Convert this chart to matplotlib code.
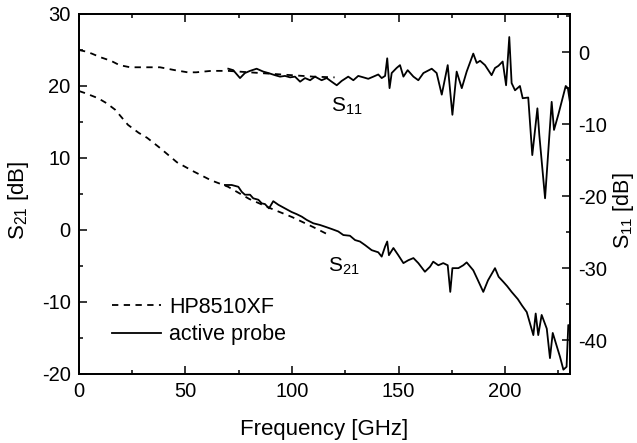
import matplotlib
matplotlib.use("Agg")
import matplotlib.pyplot as plt
from matplotlib.ticker import MultipleLocator

plt.rcParams['font.family'] = ['Liberation Sans', 'DejaVu Sans']
plt.rcParams['mathtext.default'] = 'regular'
plt.rcParams['axes.unicode_minus'] = False

# HP8510XF reference (dashed)
ref_s11_f = [0, 3, 6, 10, 15, 19, 24, 30, 38, 45, 51, 55, 62, 70, 80, 90, 100, 110, 120]
ref_s11 = [0.3, 0.1, -0.2, -0.7, -1.2, -1.8, -2.1, -2.1, -2.1, -2.5, -2.8, -2.8, -2.6,
           -2.6, -2.8, -3.0, -3.2, -3.4, -3.5]
ref_s21_f = [0, 3, 9, 13, 17, 23, 28, 32, 38, 46, 54, 62, 70, 80, 90, 100, 110, 118]
ref_s21 = [19.3, 19.0, 18.3, 17.6, 16.7, 14.6, 13.5, 12.8, 11.4, 9.4, 8.1, 6.9, 6.0,
           4.3, 3.0, 1.8, 0.4, -0.8]

# active probe (solid)
ap_s11_f = [70.1, 72.4, 75.6, 77.9, 80.3, 83.4, 86.5, 88.9, 92, 94.4, 96.7, 99.1, 101.4,
            103.8, 106.1, 108.5, 110.8, 113.9, 116.3, 118.6, 121, 123.3, 126.4, 128.8,
            131.1, 133.5, 135.8, 138.2, 140.5, 142.1, 143.7, 144.7, 145.8, 146.8,
            149.1, 150.7, 152.3, 154.3, 157, 159.3, 161.7, 165.6, 167.9, 170.3, 173.1,
            175.3, 177.3, 179.7, 182, 185.1, 186.7, 188.3, 190.6, 193.7, 195.3, 196.9,
            198.9, 200.5, 202, 203.1, 204.7, 207, 208.3, 210.9, 212.8, 215.2, 216.1,
            218.8, 221.9, 223, 225, 228.5, 229.5, 230.5]
ap_s11 = [-2.3, -2.5, -3.6, -2.9, -2.6, -2.3, -2.7, -2.9, -3.2, -3.4, -3.3, -3.5, -3.4,
          -4.1, -3.6, -3.9, -3.4, -3.9, -3.6, -4.1, -4.6, -4.0, -3.4, -3.9,
          -3.3, -3.5, -3.7, -3.4, -3.1, -3.6, -3.3, -0.85, -5.0, -2.9,
          -2.2, -1.8, -3.4, -2.5, -3.4, -3.9, -2.9, -2.3, -2.9, -5.9, -1.8,
          -8.7, -2.7, -5.0, -2.7, -0.2, -1.5, -1.2, -1.8, -3.2, -2.2, -1.9,
          -1.3, -4.6, 2.1, -4.3, -5.3, -4.7, -6.4, -6.3, -14.3, -7.8, -11.5,
          -20.3, -6.9, -10.8, -8.7, -4.7, -5.0, -7.0]
ap_s21_f = [68.5, 71.7, 74.8, 76.4, 77.9, 80.3, 81.8, 84.2, 85.8, 87.3, 89.2, 91.2, 93.6,
            96.7, 99.8, 102.2, 104.6, 106.9, 110, 113.1, 115.5, 118.6, 121.7, 124.1,
            127.2, 129.6, 131.9, 134.3, 137.4, 140.5, 142.1, 143.7, 144.7, 145.5,
            147.6, 149.9, 152.3, 154.6, 157, 159.3, 162.4, 164.8, 166.3, 168.7, 171,
            173.1, 174.3, 175.3, 178.1, 180.4, 182, 185.1, 187, 189.8, 192, 195.3,
            197, 199.2, 201, 203.1, 206, 208, 210.2, 213.3, 214.4, 215.6, 217.2,
            219.6, 221.1, 222.4, 225.8, 227.4, 228.9, 229.7, 230.5]
ap_s21 = [6.25, 6.25, 6.0, 5.3, 4.9, 4.9, 4.4, 4.2, 3.7, 3.6, 3.0, 4.0, 3.5,
          3.0, 2.5, 2.2, 1.85, 1.4, 0.93, 0.7, 0.46, 0.14, -0.2, -0.7,
          -0.8, -1.4, -1.6, -2.1, -2.8, -3.1, -3.7, -2.3, -1.6, -3.5,
          -2.5, -3.5, -4.6, -4.2, -3.9, -4.6, -5.8, -5.1, -4.4, -4.9, -4.6,
          -4.9, -8.6, -5.3, -5.3, -4.9, -4.5, -5.6, -6.8, -8.6, -7.0, -5.3,
          -6.5, -7.2, -7.8, -8.6, -9.6, -10.5, -11.4, -14.6, -11.6, -14.6, -11.8,
          -13.7, -17.8, -14.3, -17.6, -19.4, -19.0, -13.2, -13.5]

fig = plt.figure(figsize=(6.37, 4.43), dpi=100)
ax = fig.add_axes([0.124, 0.1558, 0.7708, 0.8126])
ax2 = ax.twinx()

lw = 1.3
ax.plot(ref_s21_f, ref_s21, color='black', lw=lw, dashes=(3.5, 3), label='HP8510XF')
ax.plot(ap_s21_f, ap_s21, color='black', lw=lw, label='active probe')
ax2.plot(ref_s11_f, ref_s11, color='black', lw=lw, dashes=(3.5, 3))
ax2.plot(ap_s11_f, ap_s11, color='black', lw=lw)

ax.set_xlim(0, 230.5)
ax.set_ylim(-20, 30)
ax2.set_ylim(-44.7, 5.3)

ax.xaxis.set_major_locator(MultipleLocator(50))
ax.xaxis.set_minor_locator(MultipleLocator(25))
ax.yaxis.set_major_locator(MultipleLocator(10))
ax.yaxis.set_minor_locator(MultipleLocator(5))
ax2.yaxis.set_major_locator(MultipleLocator(10))
ax2.yaxis.set_minor_locator(MultipleLocator(5))

for a in (ax, ax2):
    a.tick_params(which='both', direction='in', labelsize=14.5, width=1.1)
    a.tick_params(which='major', length=6, pad=6)
    a.tick_params(which='minor', length=3)
    for s in a.spines.values():
        s.set_linewidth(1.3)
ax.tick_params(which='both', top=True, right=False)

ax.set_xlabel('Frequency [GHz]', fontsize=16)
ax.set_ylabel('S$_{21}$ [dB]', fontsize=16)
ax2.set_ylabel('S$_{11}$ [dB]', fontsize=15.5)
ax.xaxis.set_label_coords(0.5, -0.125)
ax.yaxis.set_label_coords(-0.098, 0.483)
ax2.yaxis.set_label_coords(1.084, 0.455)

ax.text(118.5, 16.4, 'S$_{11}$', fontsize=15, va='baseline')
ax.text(117, -5.8, 'S$_{21}$', fontsize=15, va='baseline')

ax.legend(loc='upper left', bbox_to_anchor=(0.067, 0.215), frameon=False,
          fontsize=15.5, handlelength=2.3, handletextpad=0.37, labelspacing=0.3,
          borderpad=0, borderaxespad=0)

fig.savefig('out.png', dpi=100)
